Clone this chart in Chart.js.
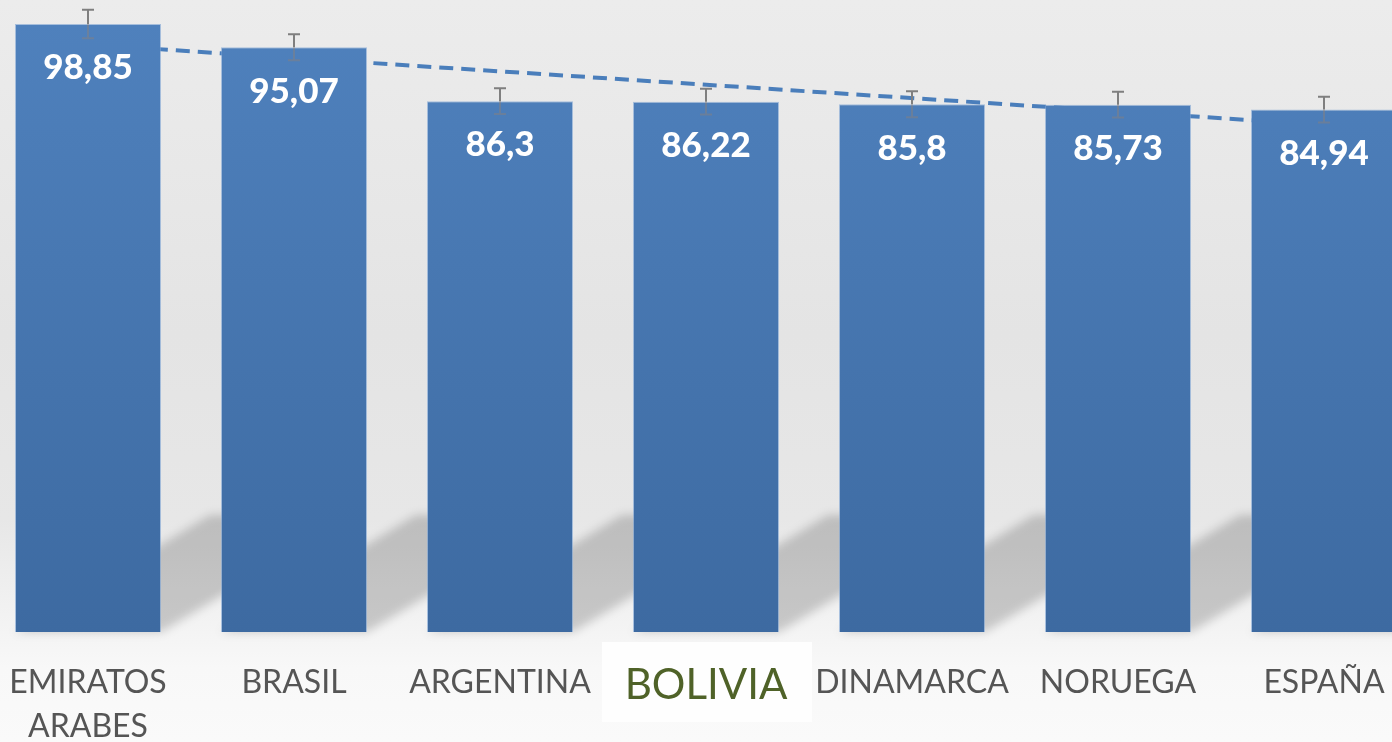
<!DOCTYPE html>
<html>
<head>
<meta charset="utf-8">
<script src="https://cdn.jsdelivr.net/npm/chart.js@4/dist/chart.umd.min.js"></script>
<style>
  html, body { margin: 0; padding: 0; width: 1392px; height: 742px; overflow: hidden; }
  body { background: linear-gradient(to bottom, #ececec 0%, #e4e4e4 45%, #e7e7e7 70%, #f3f3f3 84%, #f8f8f8 90%, #fafafa 100%); position: relative; }
  #wrap { position: absolute; left: -15px; top: 0; width: 1442px; height: 742px; }
</style>
</head>
<body>
<div id="wrap"><canvas id="c" width="1442" height="742"></canvas></div>
<script>
const categories = [["EMIRATOS", "ARABES"], "BRASIL", "ARGENTINA", "BOLIVIA", "DINAMARCA", "NORUEGA", "ESPAÑA"];
const values = [98.85, 95.07, 86.3, 86.22, 85.8, 85.73, 84.94];
const valueLabels = ["98,85", "95,07", "86,3", "86,22", "85,8", "85,73", "84,94"];
const errors = [2.3, 2.1, 2.1, 2.1, 2.1, 2.1, 2.1];
const trendLine = [95.5, null, null, null, null, null, 82.45];
const highlighted = "BOLIVIA";

const shadowPlugin = {
  id: 'shadows',
  beforeDatasetsDraw(chart) {
    const ctx = chart.ctx;
    const meta = chart.getDatasetMeta(0);
    ctx.save();
    ctx.filter = 'blur(5px)';
    ctx.fillStyle = 'rgba(0,0,0,0.18)';
    meta.data.forEach(bar => {
      const p = bar.getProps(['x', 'width', 'base'], true);
      const xl = p.x - p.width / 2, xr = p.x + p.width / 2, b = p.base;
      const L = 195, k = 0.6;
      ctx.beginPath();
      ctx.moveTo(xl, b);
      ctx.lineTo(xr, b);
      ctx.lineTo(xr + L, b - L * k);
      ctx.lineTo(xl + L, b - L * k);
      ctx.closePath();
      ctx.fill();
    });
    ctx.restore();
  }
};

const overlayPlugin = {
  id: 'overlay',
  afterDatasetsDraw(chart) {
    const ctx = chart.ctx;
    const meta = chart.getDatasetMeta(0);
    const y = chart.scales.y;
    ctx.save();
    meta.data.forEach((bar, i) => {
      const p = bar.getProps(['x', 'y'], true);
      const yTop = y.getPixelForValue(values[i] + errors[i]);
      const yBot = y.getPixelForValue(values[i] - errors[i]);
      ctx.strokeStyle = 'rgba(160,130,100,0.35)';
      ctx.lineWidth = 2;
      ctx.beginPath();
      ctx.moveTo(p.x, p.y); ctx.lineTo(p.x, yBot);
      ctx.moveTo(p.x - 6, yBot); ctx.lineTo(p.x + 6, yBot);
      ctx.stroke();
      ctx.strokeStyle = '#7f7f7f';
      ctx.beginPath();
      ctx.moveTo(p.x, p.y); ctx.lineTo(p.x, yTop);
      ctx.moveTo(p.x - 6, yTop); ctx.lineTo(p.x + 6, yTop);
      ctx.stroke();
      ctx.fillStyle = '#ffffff';
      ctx.font = '900 35px Lato, "Open Sans", sans-serif';
      ctx.textAlign = 'center';
      ctx.textBaseline = 'middle';
      ctx.fillText(valueLabels[i], p.x, p.y + 44);
    });
    const x = chart.scales.x;
    categories.forEach((c, i) => {
      const cx = x.getPixelForValue(i);
      const lines = Array.isArray(c) ? c : [c];
      ctx.textAlign = 'center';
      ctx.textBaseline = 'middle';
      if (lines[0] === highlighted) {
        ctx.fillStyle = '#fefefe';
        ctx.fillRect(cx - 104, 642, 210, 80);
        ctx.fillStyle = '#4f6228';
        ctx.font = '42px Lato, "Open Sans", sans-serif';
        ctx.fillText(lines[0], cx, 685);
      } else {
        ctx.fillStyle = '#555555';
        ctx.font = '32px Lato, "Open Sans", sans-serif';
        lines.forEach((t, j) => ctx.fillText(t, cx, 683 + j * 44));
      }
    });
    ctx.restore();
  }
};

const ctx = document.getElementById('c').getContext('2d');
const grad = ctx.createLinearGradient(0, 20, 0, 632);
grad.addColorStop(0, '#4f81bd');
grad.addColorStop(1, '#3d6aa1');

new Chart(ctx, {
  type: 'bar',
  data: {
    labels: categories,
    datasets: [
      {
        type: 'bar',
        data: values,
        backgroundColor: grad,
        borderColor: 'rgba(120,160,210,0.6)',
        borderWidth: 1,
        barPercentage: 146 / 206,
        categoryPercentage: 1,
        order: 1
      },
      {
        type: 'line',
        data: trendLine,
        spanGaps: true,
        borderColor: '#4a7ebb',
        borderWidth: 4,
        borderDash: [14, 8],
        pointRadius: 0,
        fill: false,
        order: 2
      }
    ]
  },
  options: {
    responsive: false,
    animation: false,
    devicePixelRatio: 1,
    layout: { padding: { top: 0, bottom: 110, left: 0, right: 0 } },
    plugins: { legend: { display: false }, tooltip: { enabled: false } },
    scales: {
      x: { display: false, offset: true },
      y: { display: false, min: 0, max: 102.75 }
    }
  },
  plugins: [shadowPlugin, overlayPlugin]
});
</script>
</body>
</html>
